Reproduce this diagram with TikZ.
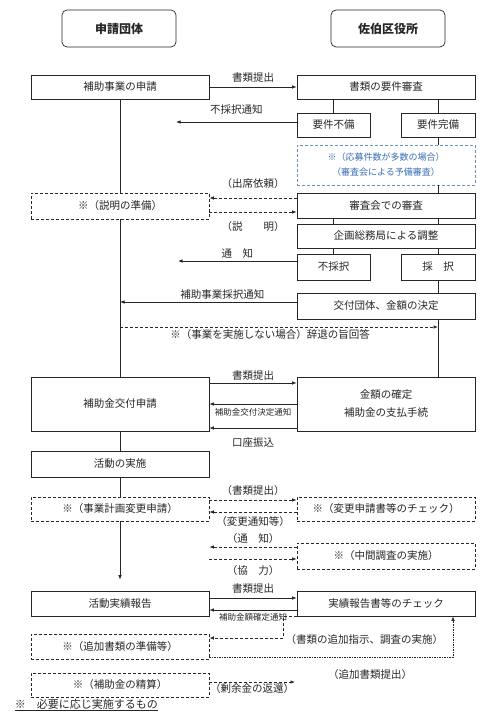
\documentclass[tikz,border=0pt]{standalone}
\usepackage{fontspec}
\setmainfont{Noto Sans CJK JP}
\usetikzlibrary{arrows.meta}
\newcommand{\fsz}[1]{\fontsize{#1}{14}\selectfont}
\newcommand{\fszl}[2]{\fontsize{#1}{#2}\selectfont}
\definecolor{frameblue}{HTML}{6F8FB8}
\definecolor{textblue}{HTML}{3A6DB5}

\begin{document}
\begin{tikzpicture}[x=1pt, y=-1pt, color=black!85, line width=0.7pt,
    box/.style={draw, fill=white, minimum width=178pt, minimum height=24pt, inner sep=0pt, font=\fsz{10.5}},
    half/.style={box, minimum width=73pt},
    dsh/.style={dash pattern=on 3pt off 2pt},
    opt/.style={box, dsh},
    head/.style={draw, rounded corners=5pt, minimum width=114pt, minimum height=37pt, font=\fsz{12}\bfseries},
    lab/.style={font=\fsz{10.5}, inner sep=1.5pt},
    small/.style={font=\fsz{8.5}, inner sep=1.5pt},
    >={Latex[length=4.5pt, width=3.5pt]}]
    \useasboundingbox (0,0) rectangle (500,717);

    \node[head] (org) at (119,28.5) {申請団体};
    \node[head] (ward) at (388,28.5) {佐伯区役所};

    \node[box] (apply) at (120,87) {補助事業の申請};
    \node[box] (check) at (386,87) {書類の要件審査};
    \node[half] (ng) at (333.5,125) {要件不備};
    \node[half, minimum width=74pt] (ok) at (438,125) {要件完備};
    \node[box, dsh, draw=frameblue, text=textblue, minimum height=40pt, align=center, font={\fszl{9}{15}}] (pre) at (386,165)
        {※（応募件数が多数の場合）\\（審査会による予備審査）};
    \node[opt, minimum height=26pt] (prep) at (120,206) {※（説明の準備）};
    \node[box, minimum height=25pt] (meet) at (386,205.5) {審査会での審査};
    \node[box] (adjust) at (386,236) {企画総務局による調整};
    \node[half, minimum height=26pt] (rej) at (333.5,267) {不採択};
    \node[half, minimum width=74pt, minimum height=26pt] (adopt) at (438,267) {採\quad 択};
    \node[box, minimum height=26pt] (decide) at (386,306) {交付団体、金額の決定};

    \draw (ng.north |- check.south) -- (ng.north);
    \draw (ok.north |- check.south) -- (ok.north);
    \draw (ok.south) -- (ok.south |- pre.north);
    \draw (ok.south |- pre.south) -- (ok.south |- meet.north);
    \draw (rej.north |- meet.south) -- (rej.north |- adjust.north);
    \draw (adopt.north |- meet.south) -- (adopt.north |- adjust.north);
    \draw (rej.north |- adjust.south) -- (rej.north);
    \draw (adopt.north |- adjust.south) -- (adopt.north);
    \draw (adopt.south) -- (adopt.south |- decide.north);

    \draw[->] (apply) -- (check) node[lab, midway, above=3pt] {書類提出};
    \coordinate (ngend) at (176,122);
    \draw[->] ([yshift=3pt]ng.west) -- (ngend) node[lab, midway, above=6pt] {不採択通知};
    \draw[dsh, ->] ([yshift=7.5pt]meet.west) -- ([yshift=7.5pt]meet.west -| prep.east)
        node[lab, midway, above=8pt] {（出席依頼）};
    \draw[dsh, ->] ([yshift=-6pt]prep.east) -- ([yshift=-6pt]prep.east -| meet.west)
        node[lab, midway, below=8pt] {（説\quad\quad 明）};
    \coordinate (rejend) at (178,261);
    \draw[->] ([yshift=6pt]rej.west) -- (rejend) node[lab, midway, above=1pt] {通\quad 知};
    \draw[->] ([yshift=4pt]decide.west) -- ([yshift=4pt]decide.west -| apply.south)
        node[lab, pos=0.42, above=0.5pt] {補助事業採択通知};
    \draw[dsh, ->] (apply.south |- 0,327) -- (adopt.south |- 0,327)
        node[lab, midway, below=1pt, xshift=-9pt] {※（事業を実施しない場合）辞退の旨回答};

    \node[box, minimum height=54pt] (grant) at (120,404) {補助金交付申請};
    \node[box, minimum height=54pt, align=center, font={\fszl{10.5}{18}}] (fix) at (386,404) {金額の確定\\補助金の支払手続};
    \draw (adopt.south |- decide.south) -- (adopt.south |- fix.north);
    \draw[->] ([yshift=21pt]grant.east) -- ([yshift=21pt]fix.west) node[lab, midway, above=0.5pt] {書類提出};
    \draw[->] (fix.west) -- (grant.east) node[small, midway, below=2pt] {補助金交付決定通知};
    \draw[->] ([yshift=-24pt]fix.west) -- ([yshift=-24pt]grant.east) node[lab, midway, below=8pt] {口座振込};

    \node[box, minimum height=26pt] (act) at (120,464) {活動の実施};
    \node[opt] (change) at (120,509) {※（事業計画変更申請）};
    \node[opt] (chk2) at (386,509) {※（変更申請書等のチェック）};
    \draw[dsh, ->] ([yshift=9pt]change.east) -- ([yshift=9pt]chk2.west) node[lab, midway, above=3pt] {（書類提出）};
    \draw[dsh, ->] ([yshift=-3pt]chk2.west) -- ([yshift=-3pt]change.east) node[lab, midway, below=3pt] {（変更通知等）};

    \node[opt, minimum height=26pt] (mid) at (386,556) {※（中間調査の実施）};
    \draw[dsh, ->] ([yshift=9pt]mid.west) -- ([yshift=9pt]mid.west -| change.east)
        node[lab, midway, above=1.5pt] {（通\quad 知）};
    \draw[dsh, ->] ([yshift=-3pt]mid.west -| change.east) -- ([yshift=-3pt]mid.west)
        node[lab, midway, below=5pt] {（協\quad 力）};

    \node[box, minimum height=25pt] (report) at (120,603.5) {活動実績報告};
    \node[box, minimum height=25pt] (rcheck) at (386,603.5) {実績報告書等のチェック};
    \draw[->] ([yshift=5.5pt]report.east) -- ([yshift=5.5pt]rcheck.west) node[lab, midway, above=3pt] {書類提出};
    \draw[->] ([yshift=-6.5pt]rcheck.west) -- ([yshift=-6.5pt]report.east) node[small, midway, below=1pt] {補助金額確定通知};

    \draw (apply) -- (prep);
    \draw (prep) -- (grant);
    \draw (grant) -- (act);
    \draw (act) -- (change);
    \draw[->] (change) -- ([yshift=11pt]report.north);

    \node[opt, minimum height=25pt] (extra) at (120,646.5) {※（追加書類の準備等）};
    \draw[dsh, ->] ([xshift=50pt]rcheck.south west) -- ++(-63,0) |- ([yshift=8.5pt]extra.east)
        node[lab, pos=0.5, anchor=west, yshift=-2pt] {（書類の追加指示、調査の実施）};
    \draw[dash pattern=on 1.5pt off 1pt, ->] ([yshift=-10.5pt]extra.east) -| ([xshift=67pt]rcheck.south)
        node[lab, pos=0.33, below=11pt] {（追加書類提出）};

    \node[opt] (settle) at (120,685) {※（補助金の精算）};
    \coordinate (refund) at (295,682);
    \draw[dsh, ->] ([yshift=3pt]settle.east) -- (refund) node[lab, midway, below=0pt] {（剰余金の返還）};

    \node[lab, font=\fsz{11}, anchor=west] (note) at (13,705) {\underline{※　必要に応じ実施するもの}};
\end{tikzpicture}
\end{document}
